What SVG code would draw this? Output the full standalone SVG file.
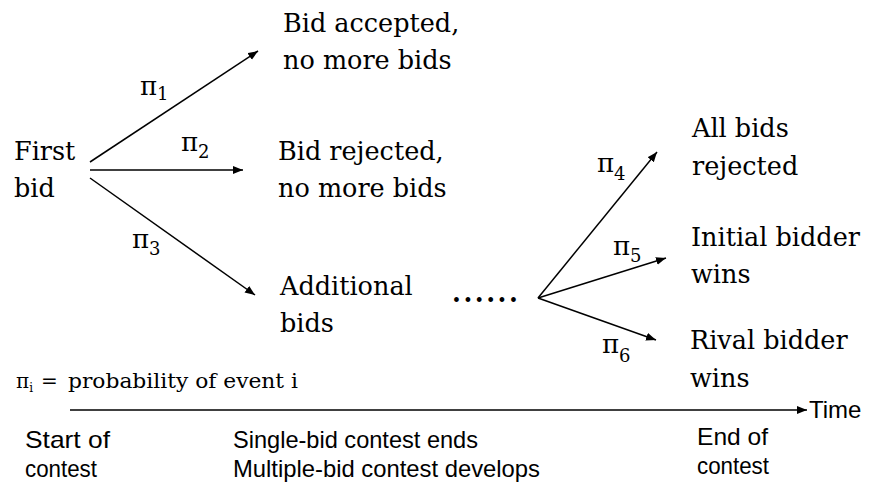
<svg xmlns="http://www.w3.org/2000/svg" width="878" height="489" viewBox="0 0 878 489">
<style>
.t{font-size:25.5px;fill:#000}
.p{font-size:26px;fill:#000}
.s{font-size:18px}
.a{font-size:24px;fill:#000}
.c{stroke:#000;stroke-width:1.5;fill:none;marker-end:url(#ah)}
</style>
<defs>
<marker id="ah" markerUnits="userSpaceOnUse" markerWidth="12" markerHeight="10" refX="10" refY="4" orient="auto">
<path d="M0,0 L10,4 L0,8 Z" fill="#000"/>
</marker>
</defs>
<rect width="878" height="489" fill="#fff"/>
<g id="connectors">
<line class="c" x1="90" y1="162" x2="258" y2="51"/>
<line class="c" x1="90" y1="170" x2="243" y2="170"/>
<line class="c" x1="90" y1="178" x2="255" y2="295"/>
<line class="c" x1="538" y1="298" x2="657" y2="152"/>
<line class="c" x1="538" y1="298" x2="666" y2="258"/>
<line class="c" x1="538" y1="298" x2="656" y2="340"/>
<line class="c" x1="70" y1="410" x2="807" y2="410"/>
</g>
<g id="labels" style="font-family:'DejaVu Serif'">
<text class="p" x="140" y="95">π<tspan class="s" dy="5">1</tspan></text>
<text class="p" x="181" y="151">π<tspan class="s" dy="7">2</tspan></text>
<text class="p" x="132" y="248">π<tspan class="s" dy="7">3</tspan></text>
<text class="p" x="597" y="172">π<tspan class="s" dy="8">4</tspan></text>
<text class="p" x="613" y="255">π<tspan class="s" dy="7">5</tspan></text>
<text class="p" x="602" y="353">π<tspan class="s" dy="9">6</tspan></text>
</g>
<g id="first-bid" style="font-family:'DejaVu Serif'">
<text class="t" x="14" y="160">First</text>
<text class="t" x="14" y="197">bid</text>
</g>
<g id="bid-accepted" style="font-family:'DejaVu Serif'">
<text class="t" x="283" y="32">Bid accepted,</text>
<text class="t" x="283" y="69">no more bids</text>
</g>
<g id="bid-rejected" style="font-family:'DejaVu Serif'">
<text class="t" x="278" y="160">Bid rejected,</text>
<text class="t" x="278" y="197">no more bids</text>
</g>
<g id="additional-bids" style="font-family:'DejaVu Serif'">
<text class="t" x="280" y="295">Additional</text>
<text class="t" x="280" y="332">bids</text>
</g>
<g id="dots" style="font-family:'DejaVu Serif'"><text class="t" x="452" y="302" font-weight="bold" letter-spacing="2.5">......</text></g>
<g id="all-rejected" style="font-family:'DejaVu Serif'">
<text class="t" x="692" y="137">All bids</text>
<text class="t" x="692" y="175">rejected</text>
</g>
<g id="initial-wins" style="font-family:'DejaVu Serif'">
<text class="t" x="691" y="246">Initial bidder</text>
<text class="t" x="691" y="283">wins</text>
</g>
<g id="rival-wins" style="font-family:'DejaVu Serif'">
<text class="t" x="690" y="349">Rival bidder</text>
<text class="t" x="690" y="387">wins</text>
</g>
<g id="legend" style="font-family:'DejaVu Serif'"><text font-size="20" x="16" y="388">π<tspan font-size="12" dy="4">i</tspan><tspan x="41" dy="-4">=</tspan><tspan x="68" textLength="230" lengthAdjust="spacingAndGlyphs">probability of event i</tspan></text></g>
<g id="time-labels" style="font-family:'Liberation Sans'">
<text class="a" x="809" y="418">Time</text>
<text class="a" x="25" y="448"><tspan textLength="85" lengthAdjust="spacingAndGlyphs">Start of</tspan></text>
<text class="a" x="25" y="477"><tspan textLength="72" lengthAdjust="spacingAndGlyphs">contest</tspan></text>
<text class="a" x="233" y="448"><tspan textLength="245" lengthAdjust="spacingAndGlyphs">Single-bid contest ends</tspan></text>
<text class="a" x="233" y="477"><tspan textLength="307" lengthAdjust="spacingAndGlyphs">Multiple-bid contest develops</tspan></text>
<text class="a" x="697" y="445"><tspan textLength="71" lengthAdjust="spacingAndGlyphs">End of</tspan></text>
<text class="a" x="697" y="474"><tspan textLength="72" lengthAdjust="spacingAndGlyphs">contest</tspan></text>
</g>
</svg>
